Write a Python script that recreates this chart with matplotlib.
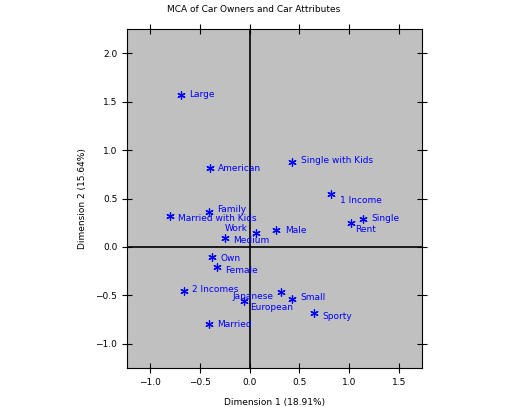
import matplotlib
matplotlib.use("Agg")
import matplotlib.pyplot as plt

labels = ["Large", "American", "Single with Kids", "1 Income", "Single", "Rent",
          "Family", "Married with Kids", "Work", "Male", "Medium", "Own", "Female",
          "2 Incomes", "Japanese", "European", "Small", "Sporty", "Married"]
dim1 = [-0.69, -0.40, 0.43, 0.82, 1.14, 1.02, -0.41, -0.80, 0.06, 0.27, -0.25,
        -0.38, -0.33, -0.66, 0.32, -0.06, 0.43, 0.65, -0.41]
dim2 = [1.57, 0.81, 0.88, 0.55, 0.29, 0.25, 0.36, 0.32, 0.14, 0.17, 0.09,
        -0.10, -0.21, -0.45, -0.47, -0.56, -0.54, -0.68, -0.80]
# label offsets in points (style only)
offs = {"Work": (-22, 3.5), "Rent": (3, -5), "Japanese": (-35, -3), "European": (4.5, -4.5),
        "Family": (6, 2), "1 Income": (6, -5), "Medium": (6, -2), "Own": (6, -1),
        "Female": (6, -2), "Sporty": (6, -3), "Single with Kids": (6, 1),
        "Married with Kids": (6, -2), "2 Incomes": (6, 1), "Small": (6, 1)}

fig = plt.figure(figsize=(5.08, 4.07), dpi=100)
ax = fig.add_axes([127/508, 1-368/407, (422-127)/508, (368-29)/407])
ax.set_facecolor("#c0c0c0")
ax.axhline(0, color="black", lw=1.2)
ax.axvline(0, color="black", lw=1.2)
ax.scatter(dim1, dim2, marker=(6, 2, 0), s=28, color="blue", linewidths=0.9)
for l, x, y in zip(labels, dim1, dim2):
    dx, dy = offs.get(l, (6, 0))
    ax.annotate(l, (x, y), xytext=(dx, dy), textcoords="offset points",
                fontsize=6.5, color="blue", va="center", ha="left")
ax.set_xlim(-1.23, 1.73)
ax.set_ylim(-1.25, 2.25)
ax.set_xticks([-1.0, -0.5, 0.0, 0.5, 1.0, 1.5])
ax.set_yticks([-1.0, -0.5, 0.0, 0.5, 1.0, 1.5, 2.0])
ax.tick_params(direction="inout", length=7, labelsize=6.5, top=True, right=True, color="black")
for s in ax.spines.values():
    s.set_color("black")
ax.set_xlabel("Dimension 1 (18.91%)", fontsize=6.5, labelpad=8)
ax.set_ylabel("Dimension 2 (15.64%)", fontsize=6.5, labelpad=6)
fig.text(0.5, 1-10/407, "MCA of Car Owners and Car Attributes", ha="center", va="center", fontsize=6.5)
fig.savefig("out.png", dpi=100)
